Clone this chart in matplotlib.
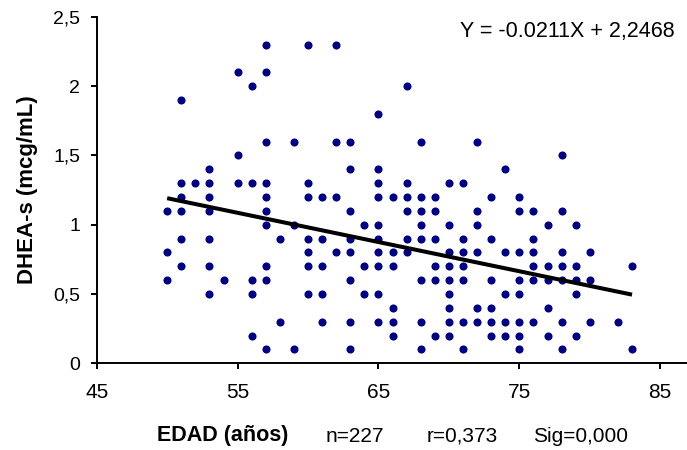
import numpy as np
from matplotlib import pyplot as plt

plt.rcParams['font.family'] = ['Liberation Sans', 'DejaVu Sans']

# edad (años) y DHEA-s (mcg/mL), una linea por edad
edad = [50, 50, 50,
        51, 51, 51, 51, 51, 51,
        52,
        53, 53, 53, 53, 53, 53, 53,
        54,
        55, 55, 55,
        56, 56, 56, 56, 56,
        57, 57, 57, 57, 57, 57, 57, 57, 57, 57,
        58, 58,
        59, 59, 59,
        60, 60, 60, 60, 60, 60, 60,
        61, 61, 61, 61, 61,
        62, 62, 62, 62,
        63, 63, 63, 63, 63, 63, 63, 63,
        64, 64, 64,
        65, 65, 65, 65, 65, 65, 65, 65, 65, 65,
        66, 66, 66, 66, 66, 66,
        67, 67, 67, 67, 67, 67,
        68, 68, 68, 68, 68, 68, 68, 68,
        69, 69, 69, 69, 69, 69,
        70, 70, 70, 70, 70, 70, 70, 70, 70,
        71, 71, 71, 71, 71, 71, 71,
        72, 72, 72, 72, 72, 72,
        73, 73, 73, 73, 73, 73,
        74, 74, 74, 74, 74,
        75, 75, 75, 75, 75, 75, 75, 75,
        76, 76, 76, 76, 76, 76,
        77, 77, 77, 77, 77,
        78, 78, 78, 78, 78, 78, 78,
        79, 79, 79, 79, 79,
        80, 80, 80,
        82,
        83, 83]

dhea = [1.1, 0.8, 0.6,
        1.9, 1.3, 1.2, 1.1, 0.9, 0.7,
        1.3,
        1.4, 1.3, 1.2, 1.1, 0.9, 0.7, 0.5,
        0.6,
        2.1, 1.5, 1.3,
        2.0, 1.3, 0.6, 0.5, 0.2,
        2.3, 2.1, 1.6, 1.3, 1.2, 1.1, 1.0, 0.7, 0.6, 0.1,
        0.9, 0.3,
        1.6, 1.0, 0.1,
        2.3, 1.3, 1.2, 0.9, 0.8, 0.7, 0.5,
        1.2, 0.9, 0.7, 0.5, 0.3,
        2.3, 1.6, 1.2, 0.8,
        1.6, 1.4, 1.1, 0.9, 0.8, 0.6, 0.3, 0.1,
        1.0, 0.7, 0.5,
        1.8, 1.4, 1.3, 1.2, 1.0, 0.9, 0.8, 0.7, 0.5, 0.3,
        1.2, 0.8, 0.7, 0.4, 0.3, 0.2,
        2.0, 1.3, 1.2, 1.1, 0.9, 0.8,
        1.6, 1.2, 1.1, 1.0, 0.9, 0.6, 0.3, 0.1,
        1.2, 1.1, 0.9, 0.7, 0.6, 0.2,
        1.3, 1.0, 0.8, 0.7, 0.6, 0.5, 0.4, 0.3, 0.2,
        1.3, 0.9, 0.8, 0.7, 0.6, 0.3, 0.1,
        1.6, 1.1, 1.0, 0.8, 0.4, 0.3,
        1.2, 0.9, 0.6, 0.4, 0.3, 0.2,
        1.4, 0.8, 0.5, 0.3, 0.2,
        1.2, 1.1, 0.8, 0.6, 0.5, 0.3, 0.2, 0.1,
        1.1, 0.9, 0.8, 0.7, 0.6, 0.3,
        1.0, 0.7, 0.6, 0.4, 0.2,
        1.5, 1.1, 0.8, 0.7, 0.6, 0.3, 0.1,
        1.0, 0.7, 0.6, 0.5, 0.2,
        0.8, 0.6, 0.3,
        0.3,
        0.7, 0.1]

# recta de regresion
pendiente = -0.0211
intercepto = 2.2468
x_recta = [50, 83]

x_ticks = [45, 55, 65, 75, 85]
y_ticks = [0, 0.5, 1, 1.5, 2, 2.5]
y_labels = ['0', '0,5', '1', '1,5', '2', '2,5']

fig = plt.figure(figsize=(6.87, 4.5), dpi=100)
ax = fig.add_axes([0.1408, 0.1927, 0.8592, 0.7696])

ax.scatter(edad, dhea, s=34, color='#000080', zorder=2, linewidths=0)
xr = np.array(x_recta)
ax.plot(xr, pendiente*xr + intercepto, color='black', lw=2.9, zorder=3,
        solid_capstyle='butt')

ax.set_xlim(45, 86.9)
ax.set_ylim(0, 2.5)
ax.set_xticks(x_ticks)
ax.set_yticks(y_ticks)
ax.set_yticklabels(y_labels)
ax.spines['top'].set_visible(False)
ax.spines['right'].set_visible(False)
ax.spines['left'].set_linewidth(1.4)
ax.spines['bottom'].set_linewidth(1.4)
ax.tick_params(axis='x', direction='out', length=4, width=1.4, labelsize=15, pad=10)
ax.tick_params(axis='y', direction='out', length=4, width=1.4, labelsize=14, pad=8)

ax.set_ylabel('DHEA-s (mcg/mL)', fontsize=16, fontweight='bold')
ax.yaxis.set_label_coords(-0.10, 0.5)

fig.text(460/687, 1 - 31/450, 'Y = -0.0211X + 2,2468', fontsize=15.5,
         ha='left', va='center')

yl = 1 - 436/450
fig.text(157/687, yl, 'EDAD (años)', fontsize=15.5, fontweight='bold', ha='left', va='center')
fig.text(326/687, yl, 'n=227', fontsize=15, ha='left', va='center')
fig.text(427/687, yl, 'r=0,373', fontsize=15, ha='left', va='center')
fig.text(533/687, yl, 'Sig=0,000', fontsize=15, ha='left', va='center')

fig.savefig('out.png', dpi=100)
